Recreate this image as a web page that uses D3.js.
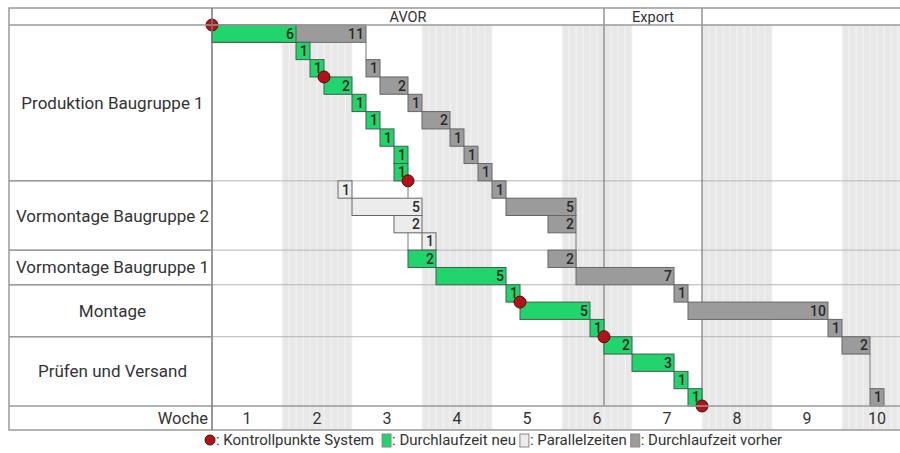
<!DOCTYPE html>
<html>
<head>
<meta charset="utf-8">
<script src="https://cdn.jsdelivr.net/npm/d3@7/dist/d3.min.js"></script>
<style>
  html, body { margin: 0; padding: 0; background: #fff; }
  svg { display: block; font-family: Roboto, "Noto Sans", sans-serif; }
</style>
</head>
<body>
<svg id="chart" width="900" height="453"></svg>
<script>
// Process groups and the number of task rows each one holds
const categories = ["Produktion Baugruppe 1", "Vormontage Baugruppe 2", "Vormontage Baugruppe 1", "Montage", "Prüfen und Versand"];
const categoryRows = [9, 4, 2, 3, 4];

// Week tick labels (5 working days per week)
const weeks = ["1", "2", "3", "4", "5", "6", "7", "8", "9", "10"];
const daysPerWeek = 5;

// Phases in the header: name, start day, end day
const phaseNames = ["AVOR", "Export", ""];
const phaseBounds = [0, 28, 35, 50];

// Tasks as [row, start day, duration in days]
const neuTasks = [
  [0, 0, 6], [1, 6, 1], [2, 7, 1], [3, 8, 2], [4, 10, 1], [5, 11, 1], [6, 12, 1], [7, 13, 1], [8, 13, 1],
  [13, 14, 2], [14, 16, 5],
  [15, 21, 1], [16, 22, 5], [17, 27, 1],
  [18, 28, 2], [19, 30, 3], [20, 33, 1], [21, 34, 1]
];
const parallelTasks = [
  [9, 9, 1], [10, 10, 5], [11, 13, 2], [12, 15, 1]
];
const vorherTasks = [
  [0, 0, 11], [2, 11, 1], [3, 12, 2], [4, 14, 1], [5, 15, 2], [6, 17, 1], [7, 18, 1], [8, 19, 1],
  [9, 20, 1], [10, 21, 5], [11, 24, 2],
  [13, 24, 2], [14, 26, 7],
  [15, 33, 1], [16, 34, 10], [17, 44, 1],
  [18, 45, 2], [21, 47, 1]
];

// Dependency links as [day, from row edge, to row edge]
const links = [[11, 1, 2], [14, 9, 13], [26, 12, 14], [47, 19, 21]];

// Control points as [day, row edge]
const checkpoints = [[0, 0], [8, 3], [14, 9], [22, 16], [28, 18], [35, 22]];

const svg = d3.select("#chart");
const totalRows = d3.sum(categoryRows);
const totalDays = weeks.length * daysPerWeek;

const frameL = 9, frameT = 8, headB = 25, labelR = 212, plotB = 406, frameB = 430, frameR = 912;
const x = d3.scaleLinear().domain([0, totalDays]).range([labelR, frameR]);
const y = d3.scaleLinear().domain([0, totalRows]).range([headB, plotB]);
const rowH = y(1) - y(0);

const lineCol = "#9a9a9a";
const colNeu = "#22d46c", colPar = "#ececec", colVor = "#9b9b9b";

// Shaded even weeks
const shade = svg.append("g");
weeks.forEach((w, i) => {
  if (i % 2 === 1) {
    const x0 = x(i * daysPerWeek), x1 = x((i + 1) * daysPerWeek);
    shade.append("rect").attr("x", x0).attr("y", headB).attr("width", x1 - x0).attr("height", frameB - headB)
      .attr("fill", "#e8e8e8");
    d3.range(i * daysPerWeek, (i + 1) * daysPerWeek + 0.01, 0.5).forEach(d => {
      shade.append("line").attr("x1", x(d)).attr("x2", x(d)).attr("y1", headB).attr("y2", frameB)
        .attr("stroke", "#f5f5f5").attr("stroke-width", 1);
    });
  }
});

// Category boundaries
const edges = [0];
categoryRows.forEach(n => edges.push(edges[edges.length - 1] + n));
const grid = svg.append("g");
edges.slice(1, -1).forEach(e => {
  grid.append("line").attr("x1", frameL).attr("x2", frameR).attr("y1", y(e)).attr("y2", y(e))
    .attr("stroke", "#b5b5b5").attr("stroke-width", 1);
});

// Phase separators and header labels
phaseBounds.slice(1, -1).forEach(d => {
  grid.append("line").attr("x1", x(d)).attr("x2", x(d)).attr("y1", frameT).attr("y2", plotB)
    .attr("stroke", "#7a7a7a").attr("stroke-width", 1.2);
});
phaseNames.forEach((n, i) => {
  grid.append("text").attr("x", (x(phaseBounds[i]) + Math.min(x(phaseBounds[i + 1]), 900)) / 2)
    .attr("y", 22).attr("text-anchor", "middle").attr("font-size", 14.5).attr("fill", "#333").text(n);
});

// Dependency links
svg.append("g").selectAll("line").data(links).join("line")
  .attr("x1", d => x(d[0])).attr("x2", d => x(d[0]))
  .attr("y1", d => y(d[1])).attr("y2", d => y(d[2]))
  .attr("stroke", "#777").attr("stroke-width", 1);

// Task bars with their duration written at the right end
function drawTasks(data, fill, stroke) {
  const g = svg.append("g");
  g.selectAll("rect").data(data).join("rect")
    .attr("x", d => x(d[1])).attr("y", d => y(d[0]))
    .attr("width", d => x(d[1] + d[2]) - x(d[1])).attr("height", rowH)
    .attr("fill", fill).attr("stroke", stroke).attr("stroke-width", 1);
  g.selectAll("text").data(data).join("text")
    .attr("x", d => x(d[1] + d[2]) - 2).attr("y", d => y(d[0]) + rowH / 2 + 5)
    .attr("text-anchor", "end").attr("font-size", 14).attr("font-weight", 500).attr("fill", "#2a2a2a")
    .text(d => d[2]);
}
drawTasks(vorherTasks, colVor, "#666");
drawTasks(parallelTasks, colPar, "#666");
drawTasks(neuTasks, colNeu, "#3f5f4a");

// Control points
svg.append("g").selectAll("circle").data(checkpoints).join("circle")
  .attr("cx", d => x(d[0])).attr("cy", d => y(d[1])).attr("r", 6)
  .attr("fill", "#b01418").attr("stroke", "#5c0606").attr("stroke-width", 1);

// Outer frame, header and label column
const frame = svg.append("g").attr("fill", "none").attr("stroke", lineCol).attr("stroke-width", 1.5);
frame.append("rect").attr("x", frameL).attr("y", frameT).attr("width", frameR - frameL).attr("height", frameB - frameT);
frame.append("line").attr("x1", frameL).attr("x2", frameR).attr("y1", headB).attr("y2", headB);
frame.append("line").attr("x1", frameL).attr("x2", frameR).attr("y1", plotB).attr("y2", plotB);
frame.append("line").attr("x1", labelR).attr("x2", labelR).attr("y1", frameT).attr("y2", frameB).attr("stroke", "#777");
edges.slice(1, -1).forEach(e => {
  frame.append("line").attr("x1", frameL).attr("x2", labelR).attr("y1", y(e)).attr("y2", y(e));
});

// Category labels
svg.append("g").selectAll("text").data(categories).join("text")
  .attr("x", (frameL + labelR) / 2 + 2)
  .attr("y", (d, i) => (y(edges[i]) + y(edges[i + 1])) / 2 + 6)
  .attr("text-anchor", "middle").attr("font-size", 17).attr("fill", "#333")
  .text(d => d);

// Week axis
const axisG = svg.append("g");
axisG.append("text").attr("x", labelR - 4).attr("y", 424).attr("text-anchor", "end")
  .attr("font-size", 16.5).attr("fill", "#333").text("Woche");
axisG.selectAll("text.wk").data(weeks).join("text").attr("class", "wk")
  .attr("x", (d, i) => x(i * daysPerWeek + daysPerWeek / 2)).attr("y", 424)
  .attr("text-anchor", "middle").attr("font-size", 16).attr("fill", "#333").text(d => d);

// Legend
const legendItems = [
  { kind: "circle", fill: "#b01418", label: ": Kontrollpunkte System" },
  { kind: "rect", fill: colNeu, label: ": Durchlaufzeit neu" },
  { kind: "rect", fill: colPar, label: ": Parallelzeiten" },
  { kind: "rect", fill: colVor, label: ": Durchlaufzeit vorher" }
];
const leg = svg.append("g");
let lx = 205;
const ly = 440;
legendItems.forEach((it, i) => {
  if (it.kind === "circle") {
    leg.append("circle").attr("cx", lx + 5).attr("cy", ly).attr("r", 5)
      .attr("fill", it.fill).attr("stroke", "#5c0606");
    lx += 11;
  } else {
    leg.append("rect").attr("x", lx).attr("y", ly - 6).attr("width", 9).attr("height", 13)
      .attr("fill", it.fill).attr("stroke", "#888");
    lx += 10;
  }
  const t = leg.append("text").attr("x", lx).attr("y", ly + 5).attr("font-size", 15)
    .attr("fill", "#333").text(it.label);
  lx += t.node().getComputedTextLength() + (i === 0 ? 8 : 4);
});
</script>
</body>
</html>
